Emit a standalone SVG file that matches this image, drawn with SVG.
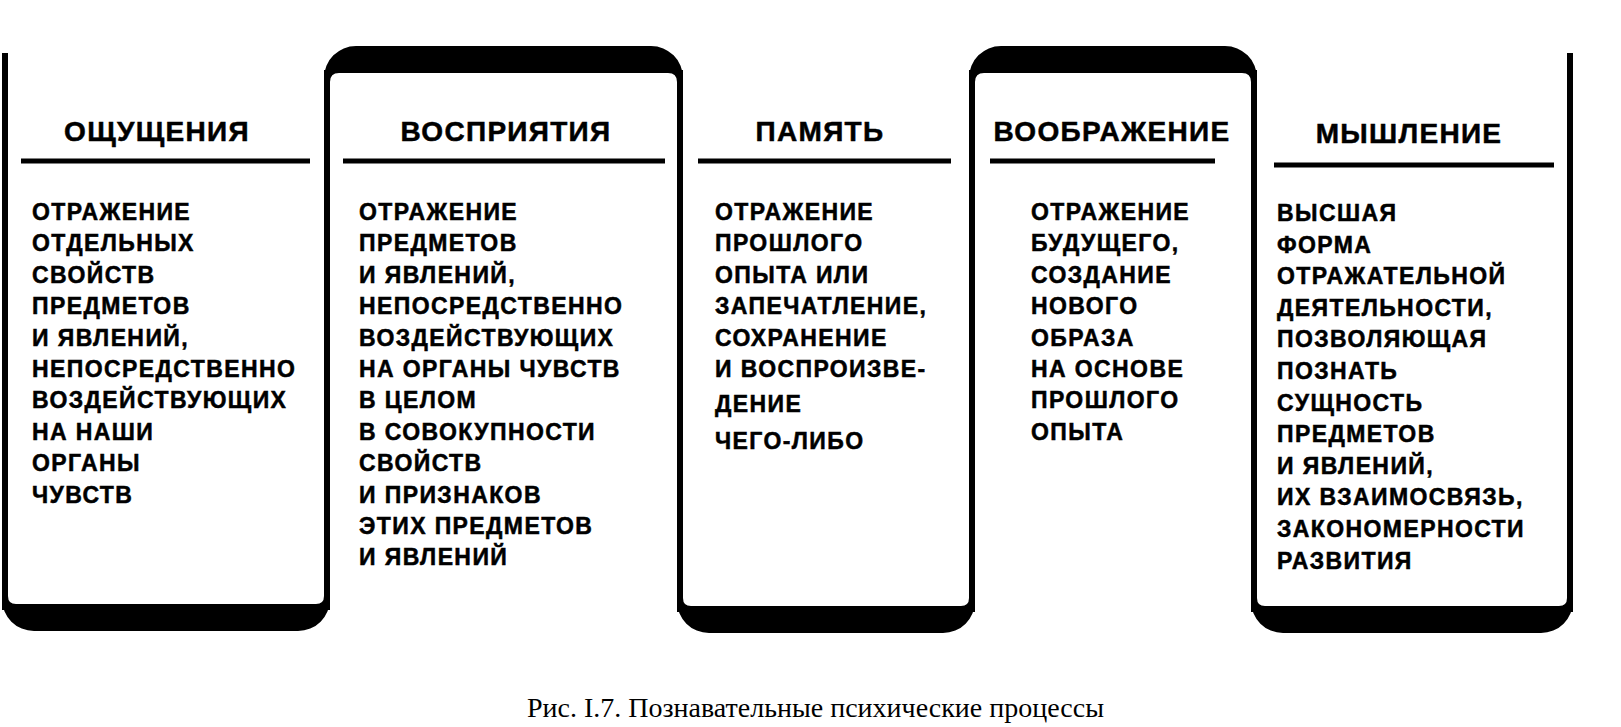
<svg xmlns="http://www.w3.org/2000/svg" width="1621" height="727" viewBox="0 0 1621 727">
<style>
.bg{fill:#fff}
.line{stroke:#000;stroke-width:6;fill:none}
.band{fill:#000}
.rule{stroke:#000;stroke-width:5}
.hd{font-family:"Liberation Sans",Arial,sans-serif;font-weight:bold;font-size:28px;letter-spacing:1.3px;text-anchor:middle;fill:#000;stroke:#000;stroke-width:0.5px}
.bd{font-family:"Liberation Sans",Arial,sans-serif;font-weight:bold;font-size:23px;letter-spacing:1.4px;fill:#000;stroke:#000;stroke-width:0.5px}
.cap{font-family:"Liberation Serif","Times New Roman",serif;font-size:28px;fill:#000}
</style>
<rect class="bg" x="0" y="0" width="1621" height="727"/>
<g id="connectors">
<line class="line" x1="5" y1="53" x2="5" y2="610"/>
<line class="line" x1="327" y1="70" x2="327" y2="610"/>
<line class="line" x1="680" y1="70" x2="680" y2="612"/>
<line class="line" x1="972" y1="70" x2="972" y2="612"/>
<line class="line" x1="1254" y1="70" x2="1254" y2="612"/>
<line class="line" x1="1570" y1="53" x2="1570" y2="612"/>
</g>
<g id="n1">
<path class="band" d="M8,596 Q8,604 16,604 L316,604 Q324,604 324,596 L330,596 L330,599 A32,32 0 0 1 298,631 L34,631 A32,32 0 0 1 2,599 L2,596 Z"/>
<text class="hd" x="157" y="141">ОЩУЩЕНИЯ</text>
<line class="rule" x1="21" y1="161" x2="310" y2="161"/>
<text class="bd" x="32" y="220">ОТРАЖЕНИЕ</text>
<text class="bd" x="32" y="251.4">ОТДЕЛЬНЫХ</text>
<text class="bd" x="32" y="282.8">СВОЙСТВ</text>
<text class="bd" x="32" y="314.2">ПРЕДМЕТОВ</text>
<text class="bd" x="32" y="345.6">И ЯВЛЕНИЙ,</text>
<text class="bd" x="32" y="377">НЕПОСРЕДСТВЕННО</text>
<text class="bd" x="32" y="408.4">ВОЗДЕЙСТВУЮЩИХ</text>
<text class="bd" x="32" y="439.8">НА НАШИ</text>
<text class="bd" x="32" y="471.2">ОРГАНЫ</text>
<text class="bd" x="32" y="502.6">ЧУВСТВ</text>
</g>
<g id="n2">
<path class="band" d="M330,82 Q330,73 339,73 L668,73 Q677,73 677,82 L683,82 L683,78 A32,32 0 0 0 651,46 L356,46 A32,32 0 0 0 324,78 L324,82 Z"/>
<text class="hd" x="506" y="141">ВОСПРИЯТИЯ</text>
<line class="rule" x1="343" y1="161" x2="665" y2="161"/>
<text class="bd" x="359" y="220">ОТРАЖЕНИЕ</text>
<text class="bd" x="359" y="251.4">ПРЕДМЕТОВ</text>
<text class="bd" x="359" y="282.8">И ЯВЛЕНИЙ,</text>
<text class="bd" x="359" y="314.2">НЕПОСРЕДСТВЕННО</text>
<text class="bd" x="359" y="345.6">ВОЗДЕЙСТВУЮЩИХ</text>
<text class="bd" x="359" y="377">НА ОРГАНЫ ЧУВСТВ</text>
<text class="bd" x="359" y="408.4">В ЦЕЛОМ</text>
<text class="bd" x="359" y="439.8">В СОВОКУПНОСТИ</text>
<text class="bd" x="359" y="471.2">СВОЙСТВ</text>
<text class="bd" x="359" y="502.6">И ПРИЗНАКОВ</text>
<text class="bd" x="359" y="534">ЭТИХ ПРЕДМЕТОВ</text>
<text class="bd" x="359" y="565.4">И ЯВЛЕНИЙ</text>
</g>
<g id="n3">
<path class="band" d="M683,598 Q683,606 691,606 L961,606 Q969,606 969,598 L975,598 L975,601 A32,32 0 0 1 943,633 L709,633 A32,32 0 0 1 677,601 L677,598 Z"/>
<text class="hd" x="820" y="141">ПАМЯТЬ</text>
<line class="rule" x1="698" y1="161" x2="951" y2="161"/>
<text class="bd" x="715" y="220">ОТРАЖЕНИЕ</text>
<text class="bd" x="715" y="251.4">ПРОШЛОГО</text>
<text class="bd" x="715" y="282.8">ОПЫТА ИЛИ</text>
<text class="bd" x="715" y="314.2">ЗАПЕЧАТЛЕНИЕ,</text>
<text class="bd" x="715" y="345.6">СОХРАНЕНИЕ</text>
<text class="bd" x="715" y="377">И ВОСПРОИЗВЕ-</text>
<text class="bd" x="715" y="412">ДЕНИЕ</text>
<text class="bd" x="715" y="449">ЧЕГО-ЛИБО</text>
</g>
<g id="n4">
<path class="band" d="M975,82 Q975,73 984,73 L1242,73 Q1251,73 1251,82 L1257,82 L1257,78 A32,32 0 0 0 1225,46 L1001,46 A32,32 0 0 0 969,78 L969,82 Z"/>
<text class="hd" x="1112" y="141">ВООБРАЖЕНИЕ</text>
<line class="rule" x1="990" y1="161" x2="1215" y2="161"/>
<text class="bd" x="1031" y="220">ОТРАЖЕНИЕ</text>
<text class="bd" x="1031" y="251.4">БУДУЩЕГО,</text>
<text class="bd" x="1031" y="282.8">СОЗДАНИЕ</text>
<text class="bd" x="1031" y="314.2">НОВОГО</text>
<text class="bd" x="1031" y="345.6">ОБРАЗА</text>
<text class="bd" x="1031" y="377">НА ОСНОВЕ</text>
<text class="bd" x="1031" y="408.4">ПРОШЛОГО</text>
<text class="bd" x="1031" y="439.8">ОПЫТА</text>
</g>
<g id="n5">
<path class="band" d="M1257,598 Q1257,606 1265,606 L1559,606 Q1567,606 1567,598 L1573,598 L1573,601 A32,32 0 0 1 1541,633 L1283,633 A32,32 0 0 1 1251,601 L1251,598 Z"/>
<text class="hd" x="1409" y="143">МЫШЛЕНИЕ</text>
<line class="rule" x1="1274" y1="165" x2="1554" y2="165"/>
<text class="bd" x="1277" y="221">ВЫСШАЯ</text>
<text class="bd" x="1277" y="252.6">ФОРМА</text>
<text class="bd" x="1277" y="284.2">ОТРАЖАТЕЛЬНОЙ</text>
<text class="bd" x="1277" y="315.8">ДЕЯТЕЛЬНОСТИ,</text>
<text class="bd" x="1277" y="347.4">ПОЗВОЛЯЮЩАЯ</text>
<text class="bd" x="1277" y="379">ПОЗНАТЬ</text>
<text class="bd" x="1277" y="410.6">СУЩНОСТЬ</text>
<text class="bd" x="1277" y="442.2">ПРЕДМЕТОВ</text>
<text class="bd" x="1277" y="473.8">И ЯВЛЕНИЙ,</text>
<text class="bd" x="1277" y="505.4">ИХ ВЗАИМОСВЯЗЬ,</text>
<text class="bd" x="1277" y="537">ЗАКОНОМЕРНОСТИ</text>
<text class="bd" x="1277" y="568.6">РАЗВИТИЯ</text>
</g>
<g id="caption">
<text class="cap" x="527" y="717">Рис. I.7. Познавательные психические процессы</text>
</g>
</svg>
